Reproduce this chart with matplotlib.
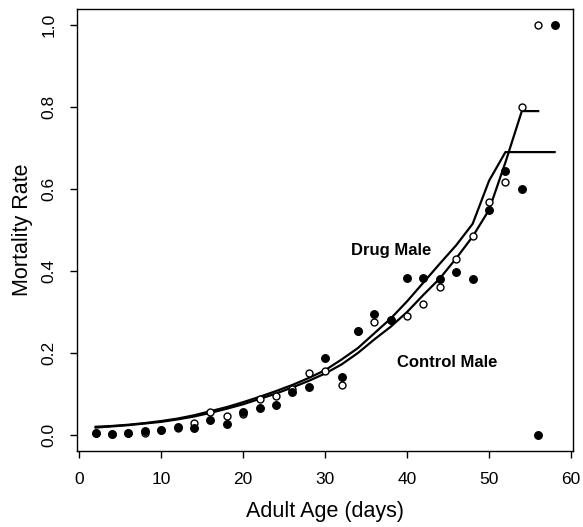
import matplotlib
matplotlib.use("Agg")
import matplotlib.pyplot as plt

plt.rcParams['font.family'] = ['Liberation Sans', 'DejaVu Sans']

# Observed mortality rates
ages_drug = [2, 4, 6, 8, 10, 12, 14, 16, 18, 20, 22, 24, 26, 28, 30, 32, 34, 36, 38,
             40, 42, 44, 46, 48, 50, 52, 54, 56, 58]
rate_drug = [0.004, 0.002, 0.004, 0.010, 0.013, 0.019, 0.018, 0.037, 0.027, 0.056, 0.067,
             0.074, 0.105, 0.118, 0.187, 0.141, 0.254, 0.295, 0.281,
             0.383, 0.383, 0.381, 0.398, 0.381, 0.549, 0.645, 0.600, 0.0, 1.0]

ages_ctrl = [2, 4, 6, 8, 10, 12, 14, 16, 18, 20, 22, 24, 26, 28, 30, 32, 34, 36, 38,
             40, 42, 44, 46, 48, 50, 52, 54, 56]
rate_ctrl = [0.006, 0.002, 0.004, 0.004, 0.012, 0.018, 0.028, 0.057, 0.046, 0.052, 0.087,
             0.095, 0.112, 0.152, 0.155, 0.122, 0.254, 0.275, 0.281,
             0.290, 0.320, 0.360, 0.430, 0.485, 0.569, 0.616, 0.800, 1.0]

# Fitted curves
fit_ages_drug = [2, 4, 6, 8, 10, 12, 14, 16, 18, 20, 22, 24, 26, 28, 30, 32, 34, 36, 38,
                 40, 42, 44, 46, 48, 50, 52, 58]
fit_drug = [0.020, 0.022, 0.025, 0.029, 0.034, 0.040, 0.048, 0.058, 0.068, 0.080, 0.093,
            0.107, 0.122, 0.139, 0.158, 0.184, 0.212, 0.248, 0.284,
            0.326, 0.372, 0.418, 0.463, 0.515, 0.620, 0.690, 0.690]

fit_ages_ctrl = [2, 4, 6, 8, 10, 12, 14, 16, 18, 20, 22, 24, 26, 28, 30, 32, 34, 36, 38,
                 40, 42, 44, 46, 48, 50, 52, 54, 56]
fit_ctrl = [0.018, 0.021, 0.024, 0.028, 0.032, 0.038, 0.045, 0.054, 0.064, 0.075, 0.088,
            0.101, 0.116, 0.132, 0.150, 0.172, 0.200, 0.233, 0.264,
            0.300, 0.342, 0.382, 0.431, 0.484, 0.549, 0.665, 0.790, 0.790]

labels = {"Drug Male": (38.0, 0.451), "Control Male": (44.9, 0.176)}

fig = plt.figure(figsize=(5.83, 5.27), dpi=100)
ax = fig.add_axes([0.1326, 0.1435, 0.9828 - 0.1326, 0.9837 - 0.1435])

ax.plot(fit_ages_drug, fit_drug, color='black', lw=1.6, zorder=2)
ax.plot(fit_ages_ctrl, fit_ctrl, color='black', lw=1.6, zorder=2)
ax.plot(ages_ctrl, rate_ctrl, 'o', ms=5, mfc='white', mec='black', mew=1.0, zorder=3)
ax.plot(ages_drug, rate_drug, 'o', ms=5.5, mfc='black', mec='black', mew=0.9, zorder=4)

for txt, (x, y) in labels.items():
    ax.text(x, y, txt, ha='center', va='center', fontsize=12, fontweight='bold')

ax.set_xlim(-0.24, 60.24)
ax.set_ylim(-0.04, 1.04)
ax.set_xticks([0, 10, 20, 30, 40, 50, 60])
ax.set_yticks([0.0, 0.2, 0.4, 0.6, 0.8, 1.0])
ax.set_yticklabels(['0.0', '0.2', '0.4', '0.6', '0.8', '1.0'], rotation=90, va='center')
ax.tick_params(direction='out', length=5, width=1, labelsize=12.5, pad=10)
for s in ax.spines.values():
    s.set_linewidth(1.0)

ax.set_xlabel('Adult Age (days)', fontsize=15.5, labelpad=10)
ax.set_ylabel('Mortality Rate', fontsize=15.5, labelpad=6)

fig.savefig('out.png', dpi=100)
